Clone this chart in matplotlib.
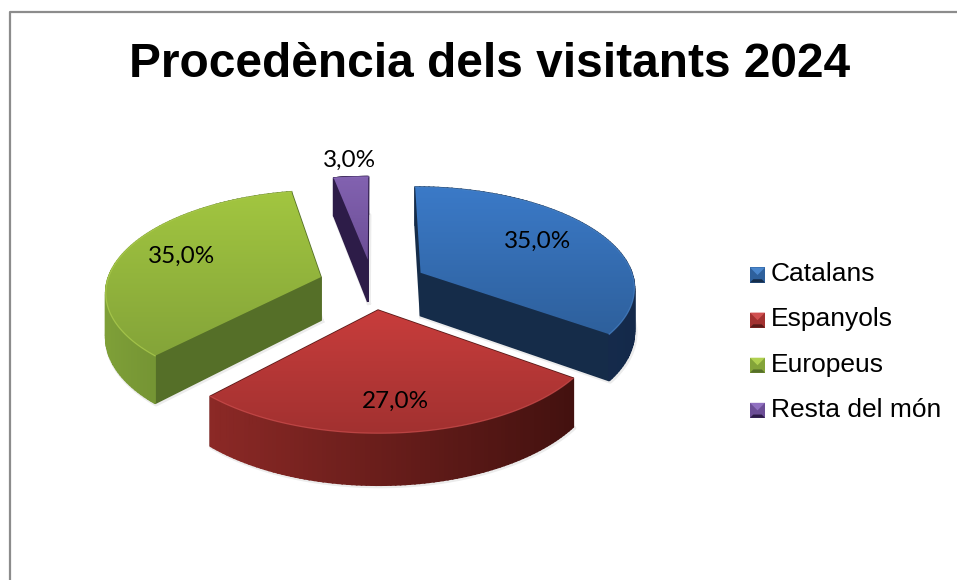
import numpy as np
import matplotlib
matplotlib.use("Agg")
import matplotlib.pyplot as plt
from matplotlib.colors import LinearSegmentedColormap, to_rgb
from matplotlib.legend_handler import HandlerBase
from matplotlib.patches import Patch, Polygon

# data
title = "Procedència dels visitants 2024"
categories = ["Catalans", "Espanyols", "Europeus", "Resta del món"]
values = [35.0, 27.0, 35.0, 3.0]

# colours for each slice
top_light = ["#3b7ac8", "#c83d3c", "#a2c640", "#8262b0"]
top_dark = ["#2e609c", "#a23130", "#84a439", "#6c4e96"]
cut_col = ["#152c49", "#5a1a18", "#556f28", "#2d1c48"]
rim_left = ["#1b3554", "#8c2926", "#7fa038", "#2d1c48"]
rim_right = ["#14294a", "#43110f", "#5a7629", "#2d1c48"]
edge_col = ["#4a86cc", "#d05050", "#b0d050", "#9070c0"]

# where the percent labels sit
label_r = [0.65, 0.76, 0.70, 1.28]
label_dx = [1, -1, -1, 3]
label_dy = [-4, 1, -2, 3]

# pie geometry, in pixels, perspective view of a unit disc
CX, CY = 372.75, 284.1
A, B, K = 214.4, 99.65, 0.13
EXPLODE = 0.254
DEPTH = 43.5


def project(x, y):
    w = 1 - K * y
    return CX + A * x / w, CY + B * y / w


def disc(theta, r=1.0):
    # theta clockwise from the top, y grows to the viewer
    return r * np.sin(theta), -r * np.cos(theta)


class BevelHandler(HandlerBase):
    def create_artists(self, legend, handle, x0, y0, w, h, fs, trans):
        i = categories.index(handle.get_label())
        s = min(w, h)
        o = s * 0.22
        x1, y1 = x0 + s, y0 + s
        out = [Polygon([[x0, y0], [x1, y0], [x1, y1], [x0, y1]], fc=top_dark[i], ec="none", transform=trans),
               Polygon([[x0, y1], [x1, y1], [x0 + s / 2, y0 + s / 2]], fc=edge_col[i], ec="none", transform=trans),
               Polygon([[x0, y0], [x1, y0], [x1 - o, y0 + o], [x0 + o, y0 + o]], fc=cut_col[i], ec="none", transform=trans)]
        return out


fig = plt.figure(figsize=(9.57, 5.8), dpi=100)
ax = fig.add_axes([0, 0, 1, 1])
ax.axis("off")

# chart frame, only the left and top sides are in the picture
ax.plot([10, 10, 957], [580, 12, 12], color="#8c8c8c", lw=1.6, zorder=1)

start = 0.0
total = sum(values)
for i, v in enumerate(values):
    t0 = start
    t1 = start + v / total * 2 * np.pi
    start = t1
    mid = (t0 + t1) / 2
    ox, oy = disc(mid, EXPLODE)
    apex = np.array(project(ox, oy))
    apex_d = DEPTH / (1 - K * oy)

    th = np.linspace(t0, t1, 90)
    dx, dy = disc(th)
    px, py = project(ox + dx, oy + dy)
    d = DEPTH / (1 - K * (oy + dy))

    # soft shadow round the foot of the slice
    ax.plot(np.r_[apex[0], px, apex[0]] + 1, np.r_[apex[1] + apex_d, py + d, apex[1] + apex_d] + 1,
            color="#808080", alpha=0.15, lw=3, zorder=2, solid_joinstyle="round")

    faces = []
    lo, hi = px.min(), px.max()
    cl, cr = np.array(to_rgb(rim_left[i])), np.array(to_rgb(rim_right[i]))
    for j in range(len(th) - 1):
        q = [[px[j], py[j]], [px[j + 1], py[j + 1]], [px[j + 1], py[j + 1] + d[j + 1]], [px[j], py[j] + d[j]]]
        f = (px[j] - lo) / (hi - lo)
        faces.append((np.mean([p[1] for p in q]), q, tuple(cl + (cr - cl) * f)))
    for end in (0, -1):
        q = [[apex[0], apex[1]], [px[end], py[end]], [px[end], py[end] + d[end]], [apex[0], apex[1] + apex_d]]
        faces.append((np.mean([p[1] for p in q]), q, cut_col[i]))
    faces.sort(key=lambda item: item[0])
    for n, (_, q, c) in enumerate(faces):
        ax.add_patch(Polygon(q, closed=True, fc=c, ec=c, lw=1.2, zorder=3 + n * 0.001))

    # top surface, with a vertical shade clipped to the slice
    verts = np.column_stack([np.r_[apex[0], px], np.r_[apex[1], py]])
    cmap = LinearSegmentedColormap.from_list("top", [top_light[i], top_dark[i]])
    shade = np.linspace(0, 1, 128).reshape(-1, 1)
    im = ax.imshow(shade, cmap=cmap, aspect="auto", zorder=4,
                   extent=(verts[:, 0].min(), verts[:, 0].max(), verts[:, 1].max(), verts[:, 1].min()))
    clip = Polygon(verts, closed=True, transform=ax.transData, fc="none", ec="none")
    ax.add_patch(clip)
    im.set_clip_path(clip)
    ax.plot(px, py, color=edge_col[i], lw=0.9, alpha=0.7, zorder=5)

    lx, ly = disc(mid, label_r[i])
    lx, ly = project(ox + lx, oy + ly)
    ax.text(lx + label_dx[i], ly + label_dy[i], f"{v:.1f}".replace(".", ",") + "%", ha="center", va="center",
            fontsize=17.5, family="Lato", color="black", zorder=6)

ax.set_xlim(0, 957)
ax.set_ylim(580, 0)

ax.text(489.5, 77, title, ha="center", va="baseline", fontsize=34.5, fontweight="bold",
        family="Liberation Sans", color="black", zorder=6)

handles = [Patch(label=c) for c in categories]
leg = ax.legend(handles=handles, loc="center left", bbox_to_anchor=(750, 342), bbox_transform=ax.transData,
                frameon=False, borderpad=0, borderaxespad=0, handlelength=0.57, handleheight=0.57,
                handletextpad=0.22, labelspacing=0.8, handler_map={Patch: BevelHandler()},
                prop={"family": "Liberation Sans", "size": 19})

fig.savefig("out.png", dpi=100)
